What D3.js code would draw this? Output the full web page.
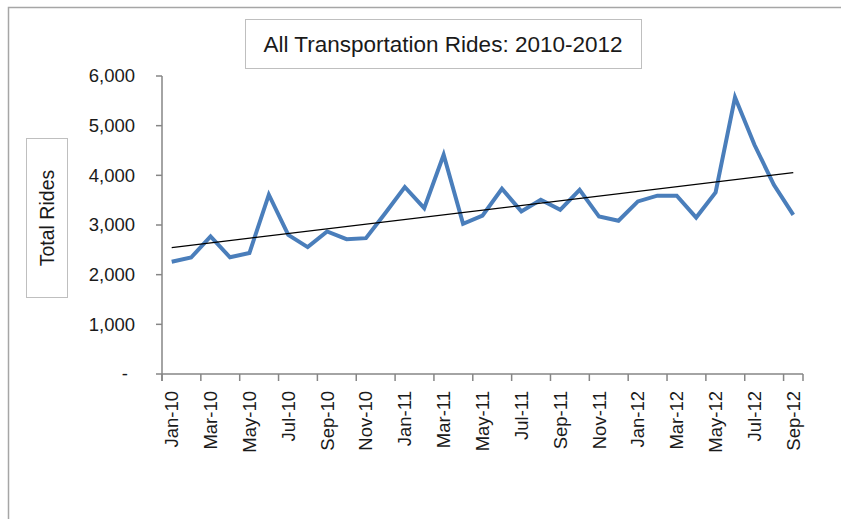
<!DOCTYPE html>
<html>
<head>
<meta charset="utf-8">
<script src="https://cdn.jsdelivr.net/npm/d3@7"></script>
<style>
  body { margin: 0; background: #fff; }
  svg { display: block; font-family: "Liberation Sans", Arial, sans-serif; }
</style>
</head>
<body>
<svg width="841" height="519"></svg>
<script>
// monthly categories, Jan-10 .. Sep-12
var months = ["Jan-10", "Feb-10", "Mar-10", "Apr-10", "May-10", "Jun-10", "Jul-10", "Aug-10", "Sep-10", "Oct-10", "Nov-10", "Dec-10",
              "Jan-11", "Feb-11", "Mar-11", "Apr-11", "May-11", "Jun-11", "Jul-11", "Aug-11", "Sep-11", "Oct-11", "Nov-11", "Dec-11",
              "Jan-12", "Feb-12", "Mar-12", "Apr-12", "May-12", "Jun-12", "Jul-12", "Aug-12", "Sep-12"];
var rides = [2260, 2345, 2770, 2350, 2435, 3610, 2800, 2555, 2870, 2715, 2735, 3240,
             3765, 3340, 4415, 3025, 3190, 3730, 3275, 3510, 3305, 3710, 3170, 3085,
             3475, 3590, 3590, 3150, 3655, 5570, 4615, 3810, 3205];
var yTicks = [0, 1000, 2000, 3000, 4000, 5000, 6000];
var yTickLabels = ["-", "1,000", "2,000", "3,000", "4,000", "5,000", "6,000"];
var chartTitle = "All Transportation Rides: 2010-2012";
var yTitle = "Total Rides";

var svg = d3.select("svg");
var axisColor = "#868686";

// outer chart frame (top + left edge only visible)
svg.append("path")
    .attr("d", "M8.5,519 V7.5 H841")
    .attr("fill", "none")
    .attr("stroke", "#a6a6a6")
    .attr("stroke-width", 1.5);

var x = d3.scaleBand().domain(months).range([162, 803]).padding(0);
var y = d3.scaleLinear().domain([0, 6000]).range([374, 76]);

// y axis
var yAxis = svg.append("g");
yAxis.append("line")
    .attr("x1", 162).attr("x2", 162)
    .attr("y1", y(6000)).attr("y2", 381)
    .attr("stroke", axisColor).attr("stroke-width", 1.5);
yAxis.selectAll(".ytick")
    .data(yTicks)
    .enter().append("line")
    .attr("x1", 156).attr("x2", 162)
    .attr("y1", function(d) { return y(d); })
    .attr("y2", function(d) { return y(d); })
    .attr("stroke", axisColor).attr("stroke-width", 1.5);
yAxis.selectAll(".ylab")
    .data(yTicks)
    .enter().append("text")
    .attr("x", function(d) { return d === 0 ? 128 : 135; })
    .attr("y", function(d) { return y(d); })
    .attr("dy", "0.35em")
    .attr("text-anchor", "end")
    .attr("font-size", 18.5)
    .attr("fill", "#1a1a1a")
    .text(function(d, i) { return yTickLabels[i]; });

// x axis
var xAxis = svg.append("g");
xAxis.append("line")
    .attr("x1", 162).attr("x2", 803)
    .attr("y1", 374).attr("y2", 374)
    .attr("stroke", axisColor).attr("stroke-width", 1.5);
var tickMonths = months.filter(function(d, i) { return i % 2 === 0; });
xAxis.selectAll(".xtick")
    .data(tickMonths)
    .enter().append("line")
    .attr("x1", function(d) { return x(d); })
    .attr("x2", function(d) { return x(d); })
    .attr("y1", 374).attr("y2", 381)
    .attr("stroke", axisColor).attr("stroke-width", 1.5);
xAxis.append("line")
    .attr("x1", 803).attr("x2", 803)
    .attr("y1", 374).attr("y2", 381)
    .attr("stroke", axisColor).attr("stroke-width", 1.5);
xAxis.selectAll(".xlab")
    .data(tickMonths)
    .enter().append("text")
    .attr("transform", function(d) {
        return "translate(" + (x(d) + x.bandwidth() / 2) + ",391) rotate(-90)";
    })
    .attr("dy", "0.35em")
    .attr("text-anchor", "end")
    .attr("font-size", 18.5)
    .attr("fill", "#1a1a1a")
    .text(function(d) { return d; });

// linear trend (least squares on month index)
var n = rides.length;
var meanX = (n - 1) / 2;
var meanY = d3.mean(rides);
var sxy = 0, sxx = 0;
rides.forEach(function(v, i) {
    sxy += (i - meanX) * (v - meanY);
    sxx += (i - meanX) * (i - meanX);
});
var slope = sxy / sxx;
var intercept = meanY - slope * meanX;

var cx = function(d, i) { return x(months[i]) + x.bandwidth() / 2; };

svg.append("path")
    .datum(rides)
    .attr("fill", "none")
    .attr("stroke", "#4a7ebb")
    .attr("stroke-width", 4)
    .attr("stroke-linejoin", "miter")
    .attr("d", d3.line().x(cx).y(function(d) { return y(d); }));

svg.append("line")
    .attr("x1", cx(null, 0))
    .attr("x2", cx(null, n - 1))
    .attr("y1", y(intercept))
    .attr("y2", y(intercept + slope * (n - 1)))
    .attr("stroke", "#000")
    .attr("stroke-width", 1.2);

// title box
svg.append("rect")
    .attr("x", 245.5).attr("y", 19.5)
    .attr("width", 396).attr("height", 49)
    .attr("fill", "#fff")
    .attr("stroke", "#bfbfbf");
svg.append("text")
    .attr("x", 443).attr("y", 44)
    .attr("dy", "0.35em")
    .attr("text-anchor", "middle")
    .attr("font-size", 22.5)
    .attr("fill", "#1a1a1a")
    .text(chartTitle);

// y axis title box
svg.append("rect")
    .attr("x", 26.5).attr("y", 138.5)
    .attr("width", 41).attr("height", 159)
    .attr("fill", "#fff")
    .attr("stroke", "#bfbfbf");
svg.append("text")
    .attr("transform", "translate(47,218) rotate(-90)")
    .attr("dy", "0.35em")
    .attr("text-anchor", "middle")
    .attr("font-size", 19.5)
    .attr("fill", "#1a1a1a")
    .text(yTitle);
</script>
</body>
</html>
